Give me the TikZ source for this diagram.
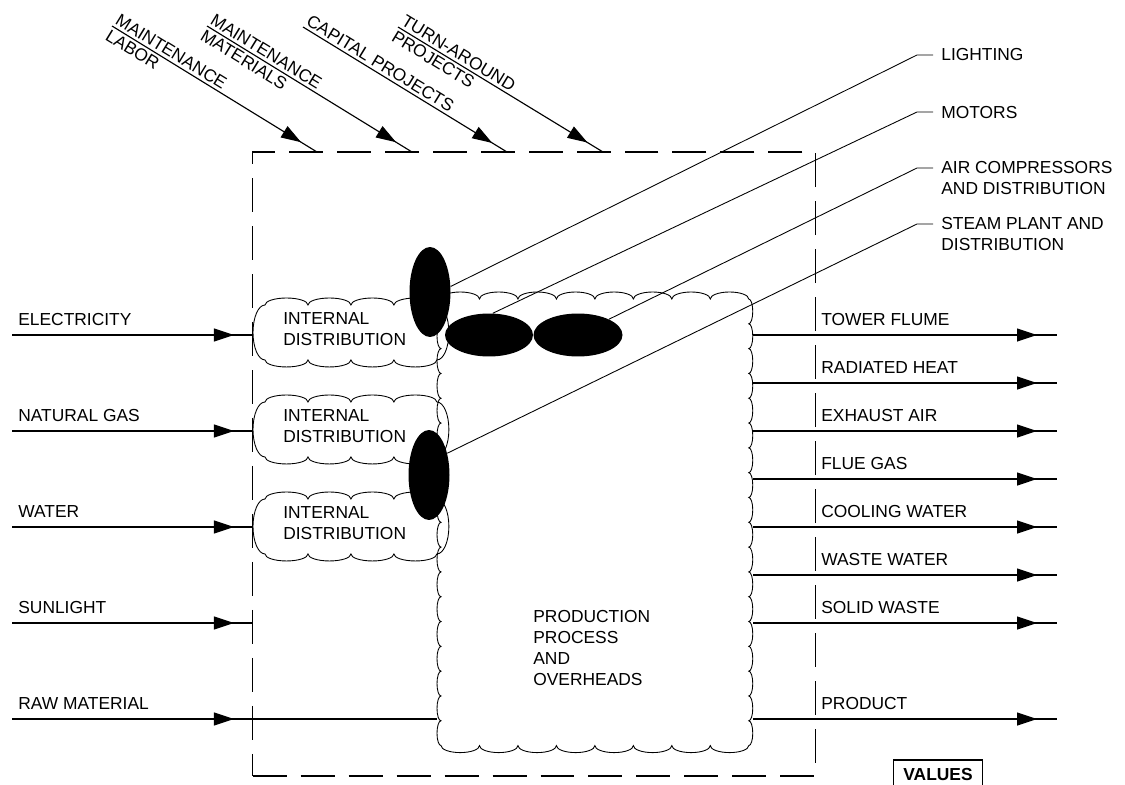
\documentclass[tikz,border=0pt]{standalone}
\usepackage{fontspec}
\setmainfont{Liberation Sans}
\usepackage{tikz}
\usetikzlibrary{shapes.geometric,arrows.meta,positioning,decorations.markings}

% scalloped outline: x1,y1 (top left of inner box), bumps across, bump width,
% bumps down, bump height, top amplitude, side amplitude (all in pixels)
\newcommand{\cloudrim}[8]{%
  \pgfmathsetmacro\rimbw{#4*0.01}%
  \pgfmathsetmacro\rimbh{#6*0.01}%
  \pgfmathsetmacro\rimat{#7*0.02}%
  \pgfmathsetmacro\rimas{#8*0.02}%
  \draw[rim] (#1,#2)
    \foreach \k in {1,...,#3} {arc[start angle=180, end angle=0, x radius=\rimbw cm, y radius=\rimat cm]}
    \foreach \k in {1,...,#5} {arc[start angle=90, end angle=-90, x radius=\rimas cm, y radius=\rimbh cm]}
    \foreach \k in {1,...,#3} {arc[start angle=0, end angle=-180, x radius=\rimbw cm, y radius=\rimat cm]}
    \foreach \k in {1,...,#5} {arc[start angle=270, end angle=90, x radius=\rimas cm, y radius=\rimbh cm]}
    -- cycle;}

\begin{document}
\begin{tikzpicture}[x=0.02cm, y=-0.02cm]
    \tikzset{lbl/.style={font=\fontsize{9.9}{11.8}\selectfont, inner sep=0pt, align=left}}
    \tikzset{flowin/.style={line width=0.65pt, postaction={decorate},
        decoration={markings, mark=at position 4.44cm with {\arrow{Triangle[length=0.4cm,width=0.26cm]}}}}}
    \tikzset{flowout/.style={line width=0.65pt, postaction={decorate},
        decoration={markings, mark=at position -0.4cm with {\arrow{Triangle[length=0.4cm,width=0.26cm]}}}}}
    \tikzset{rim/.style={line width=0.5pt}}
    \tikzset{blob/.style={ellipse, fill=black, inner sep=0pt}}
    \tikzset{leader/.style={line width=0.5pt}}

    \useasboundingbox (0,0) rectangle (1125,784);
    \clip (0,0) rectangle (1125,784);
    \fill[white] (0,0) rectangle (1125,784);

    % plant boundary
    \node [draw, line width=0.8pt, dash pattern=on 0.68cm off 0.28cm, minimum width=11.26cm, minimum height=12.48cm, inner sep=0pt] (plant) at (534,464) {};

    % production cloud
    \cloudrim{441}{299}{8}{38.5}{18}{24.83}{7}{4}
    \coordinate (procW) at (437,522);
    \coordinate (procE) at (753,522);
    \node [lbl, anchor=base west] (proctxt) at (533,685) {PRODUCTION\\PROCESS\\AND\\OVERHEADS};

    % internal distribution clouds
    \cloudrim{265}{305}{4}{43}{1}{55}{7}{12}
    \cloudrim{265}{402}{4}{43}{1}{55}{7}{12}
    \cloudrim{265}{499}{4}{43}{1}{55}{7}{12}
    \coordinate (idAw) at (253,333);
    \coordinate (idBw) at (253,430);
    \coordinate (idCw) at (253,527);
    \node [lbl, anchor=base west] (idA) at (283,345) {INTERNAL\\DISTRIBUTION};
    \node [lbl, anchor=base west] (idB) at (283,442) {INTERNAL\\DISTRIBUTION};
    \node [lbl, anchor=base west] (idC) at (283,539) {INTERNAL\\DISTRIBUTION};

    % inputs on the left
    \coordinate (elecS) at (12,335);
    \coordinate (gasS) at (12,431);
    \coordinate (watS) at (12,527);
    \coordinate (sunS) at (12,623);
    \coordinate (rawS) at (12,719);
    \node [lbl, anchor=base west] (elec) at (18,325) {ELECTRICITY};
    \node [lbl, anchor=base west] (gas) at (18,421) {NATURAL GAS};
    \node [lbl, anchor=base west] (wat) at (18,517) {WATER};
    \node [lbl, anchor=base west] (sun) at (18,613) {SUNLIGHT};
    \node [lbl, anchor=base west] (raw) at (18,709) {RAW MATERIAL};
    \draw [flowin] (elecS) -- (elecS -| idAw);
    \draw [flowin] (gasS) -- (gasS -| idBw);
    \draw [flowin] (watS) -- (watS -| idCw);
    \draw [flowin] (sunS) -- (sunS -| plant.west);
    \draw [flowin] (rawS) -- (rawS -| procW);

    % inputs from the top
    \coordinate (mlS) at (112,26);
    \coordinate (mlE) at (317,152);
    \coordinate (mmS) at (207,26);
    \coordinate (mmE) at (412,152);
    \coordinate (cpS) at (303,27);
    \coordinate (cpE) at (507,152);
    \coordinate (taS) at (398,27);
    \coordinate (taE) at (603,152);
    \draw [flowin] (mlS) -- (mlE)
        node [lbl, sloped, pos=0, anchor=south west, inner ysep=1.5pt] (mlA) {MAINTENANCE}
        node [lbl, sloped, pos=0, anchor=north west, inner ysep=1.5pt] (mlB) {LABOR};
    \draw [flowin] (mmS) -- (mmE)
        node [lbl, sloped, pos=0, anchor=south west, inner ysep=1.5pt] (mmA) {MAINTENANCE}
        node [lbl, sloped, pos=0, anchor=north west, inner ysep=1.5pt] (mmB) {MATERIALS};
    \draw [flowin] (cpS) -- (cpE)
        node [lbl, sloped, pos=0, anchor=south west, inner ysep=1.5pt] (cpA) {CAPITAL PROJECTS};
    \draw [flowin] (taS) -- (taE)
        node [lbl, sloped, pos=0, anchor=south west, inner ysep=1.5pt] (taA) {TURN-AROUND}
        node [lbl, sloped, pos=0, anchor=north west, inner ysep=1.5pt] (taB) {PROJECTS};

    % outputs on the right
    \coordinate (twrE) at (1057,335);
    \coordinate (radE) at (1057,383);
    \coordinate (exhE) at (1057,431);
    \coordinate (flueE) at (1057,479);
    \coordinate (coolE) at (1057,527);
    \coordinate (wwE) at (1057,575);
    \coordinate (swE) at (1057,623);
    \coordinate (prodE) at (1057,719);
    \node [lbl, anchor=base west] (twr) at (821,325) {TOWER FLUME};
    \node [lbl, anchor=base west] (rad) at (821,373) {RADIATED HEAT};
    \node [lbl, anchor=base west] (exh) at (821,421) {EXHAUST AIR};
    \node [lbl, anchor=base west] (flue) at (821,469) {FLUE GAS};
    \node [lbl, anchor=base west] (cool) at (821,517) {COOLING WATER};
    \node [lbl, anchor=base west] (ww) at (821,565) {WASTE WATER};
    \node [lbl, anchor=base west] (sw) at (821,613) {SOLID WASTE};
    \node [lbl, anchor=base west] (prod) at (821,709) {PRODUCT};
    \draw [flowout] (procE |- twrE) -- (twrE);
    \draw [flowout] (procE |- radE) -- (radE);
    \draw [flowout] (procE |- exhE) -- (exhE);
    \draw [flowout] (procE |- flueE) -- (flueE);
    \draw [flowout] (procE |- coolE) -- (coolE);
    \draw [flowout] (procE |- wwE) -- (wwE);
    \draw [flowout] (procE |- swE) -- (swE);
    \draw [flowout] (procE |- prodE) -- (prodE);

    % energy users
    \node [blob, minimum width=0.82cm, minimum height=1.8cm] (ltg) at (430,292) {};
    \node [blob, minimum width=1.76cm, minimum height=0.86cm] (mtrA) at (489,335) {};
    \node [blob, minimum width=1.78cm, minimum height=0.86cm] (mtrB) at (578,335) {};
    \node [blob, minimum width=0.82cm, minimum height=1.8cm] (stm) at (429,475) {};

    \coordinate (ltgK) at (917,55);
    \coordinate (mtrK) at (917,112);
    \coordinate (airK) at (917,168);
    \coordinate (stmK) at (917,224);
    \node [lbl, anchor=base west, inner xsep=0.16cm] (ltgL) at (933,61) {LIGHTING};
    \node [lbl, anchor=base west, inner xsep=0.16cm] (mtrL) at (933,118) {MOTORS};
    \node [lbl, anchor=base west, inner xsep=0.16cm] (airL) at (933,194) {AIR COMPRESSORS\\AND DISTRIBUTION};
    \node [lbl, anchor=base west, inner xsep=0.16cm] (stmL) at (933,250) {STEAM PLANT AND\\DISTRIBUTION};
    \draw [leader] (ltg.15) -- (ltgK) -- (ltgK -| ltgL.west);
    \draw [leader] (mtrA.80) -- (mtrK) -- (mtrK -| mtrL.west);
    \draw [leader] (mtrB.27) -- (airK) -- (airK -| airL.west);
    \draw [leader] (stm.50) -- (stmK) -- (stmK -| stmL.west);

    % legend
    \node [draw, line width=0.6pt, font=\bfseries\fontsize{9.9}{11}\selectfont, minimum width=1.78cm, minimum height=0.6cm, inner sep=0pt] (vals) at (938,775) {VALUES};
\end{tikzpicture}
\end{document}
